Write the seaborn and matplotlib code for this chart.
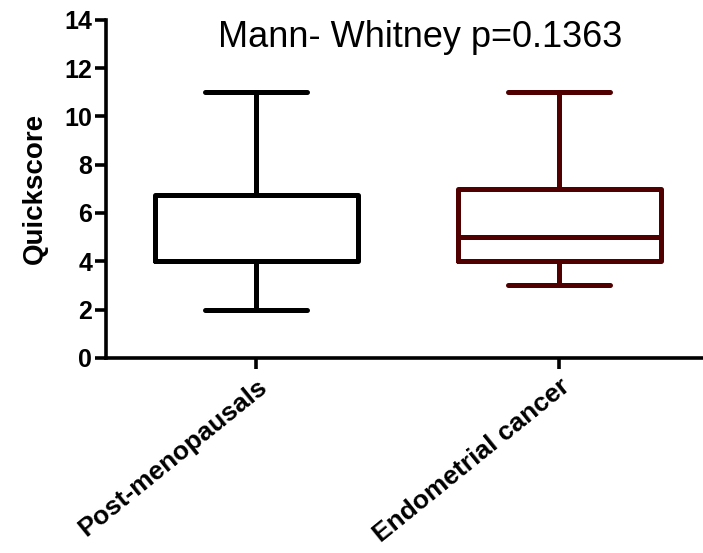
import pandas as pd
import matplotlib
matplotlib.use("Agg")
import matplotlib.pyplot as plt
import matplotlib.transforms as mtransforms
import seaborn as sns

# 데이터 (그림에서 읽은 값: min/Q1/median/Q3/max 이 맞도록 구성)
groups = ["Post-menopausals", "Endometrial cancer"]
post_scores = [2, 4, 4, 4, 4, 6, 9, 11]
endo_scores = [3, 4, 4, 5, 5, 6, 7, 9, 11]
box_colors = ["#000000", "#500000"]
y_ticks = [0, 2, 4, 6, 8, 10, 12, 14]
title_text = "Mann- Whitney p=0.1363"

df = pd.DataFrame({
    "group": [groups[0]] * len(post_scores) + [groups[1]] * len(endo_scores),
    "score": post_scores + endo_scores,
})

sns.set_style("ticks")
plt.rcParams["font.family"] = ["Liberation Sans", "DejaVu Sans"]
plt.rcParams.update({"text.color": "black", "axes.labelcolor": "black",
                     "xtick.color": "black", "ytick.color": "black",
                     "axes.edgecolor": "black"})

fig = plt.figure(figsize=(7.03, 5.53), dpi=100)
ax = fig.add_axes([0.151, 0.353, 0.849, 0.611])

lw = 3.6
sns.boxplot(data=df, x="group", y="score", hue="group", palette=box_colors,
            order=groups, hue_order=groups, fill=False, legend=False,
            whis=(0, 100), width=0.67, linewidth=lw, showfliers=False, ax=ax,
            boxprops=dict(solid_joinstyle="round"),
            whiskerprops=dict(solid_capstyle="round"),
            capprops=dict(solid_capstyle="round"),
            medianprops=dict(solid_capstyle="butt"))

ax.set_xlim(-0.495, 1.475)
ax.set_ylim(0, 14)
ax.set_yticks(y_ticks)
ax.set_xlabel("")
ax.set_ylabel("Quickscore", fontsize=20, fontweight="bold", labelpad=12)

sns.despine(ax=ax)
for s in ["left", "bottom"]:
    ax.spines[s].set_linewidth(2.6)
    ax.spines[s].set_color("black")
ax.tick_params(axis="both", direction="out", length=8, width=2.6, colors="black")
ax.tick_params(axis="y", labelsize=18, pad=2)
ax.tick_params(axis="x", labelsize=19, pad=4)
for lab in ax.get_yticklabels():
    lab.set_fontweight("bold")
for lab in ax.get_xticklabels():
    lab.set_fontweight("bold")
    lab.set_rotation(39)
    lab.set_ha("right")
    lab.set_va("top")
    lab.set_rotation_mode("anchor")

trans = mtransforms.blended_transform_factory(ax.transAxes, ax.transData)
ax.text(0.526, 12.88, title_text, transform=trans, color="black",
        ha="center", va="baseline", fontsize=26)

fig.savefig("out.png", dpi=100)
